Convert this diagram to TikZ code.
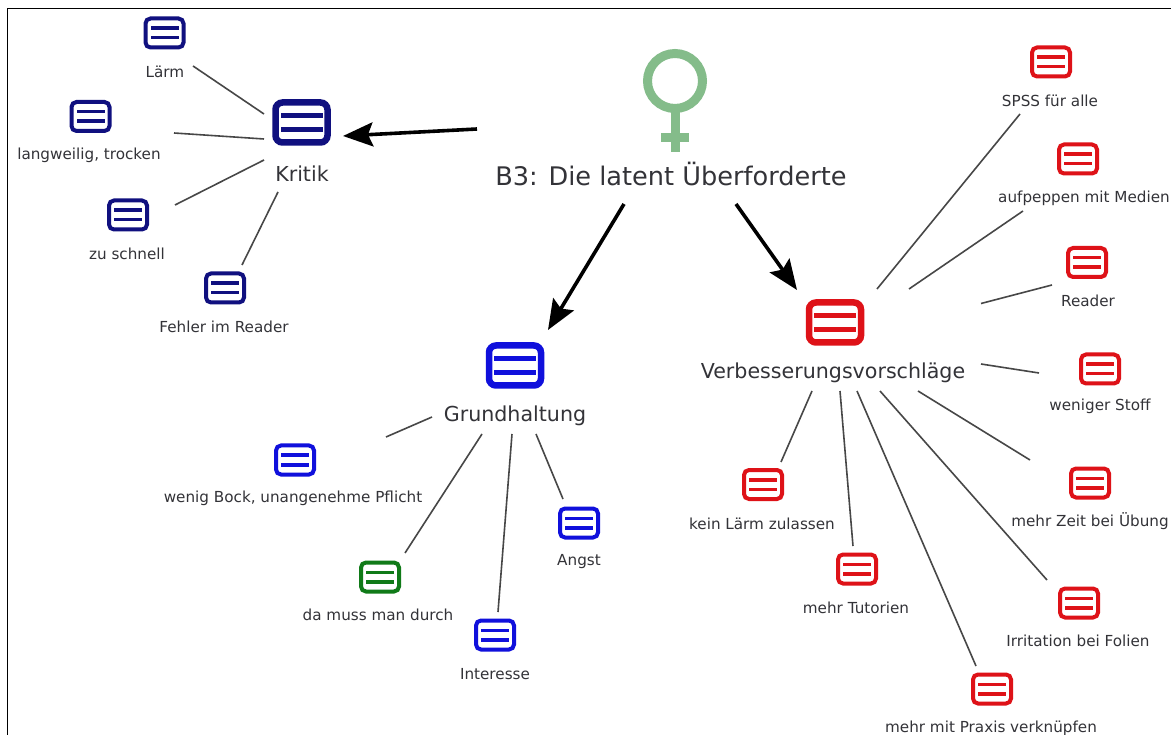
\documentclass[tikz,border=0pt]{standalone}
\usepackage{fontspec}
\setmainfont{DejaVu Sans}
\usetikzlibrary{arrows.meta}
\definecolor{cnavy}{HTML}{10107F}
\definecolor{cblue}{HTML}{1010DC}
\definecolor{cred}{HTML}{DE1218}
\definecolor{cgreen}{HTML}{107A18}
\definecolor{cfem}{HTML}{84BC8A}
\definecolor{ctext}{HTML}{333338}
\tikzset{
  bigicon/.style={draw=#1,line width=6.5pt,rounded corners=7pt,minimum width=52pt,minimum height=40pt,inner sep=0pt,outer sep=0pt,fill=white,
    path picture={\fill[#1,sharp corners] ([shift={(-21,-9.5)}]path picture bounding box.center) rectangle ([shift={(21,-4.5)}]path picture bounding box.center);
                  \fill[#1,sharp corners] ([shift={(-21,4.5)}]path picture bounding box.center) rectangle ([shift={(21,9.5)}]path picture bounding box.center);}},
  smallicon/.style={draw=#1,line width=4pt,rounded corners=5pt,minimum width=38pt,minimum height=29pt,inner sep=0pt,outer sep=0pt,fill=white,
    path picture={\fill[#1,sharp corners] ([shift={(-14,-6.5)}]path picture bounding box.center) rectangle ([shift={(14,-3)}]path picture bounding box.center);
                  \fill[#1,sharp corners] ([shift={(-14,3)}]path picture bounding box.center) rectangle ([shift={(14,6.5)}]path picture bounding box.center);}},
  smalllabel/.style={text=ctext,font=\fontsize{15.2}{18}\selectfont,inner sep=0pt,yshift=-1pt},
  biglabel/.style={text=ctext,font=\fontsize{20.6}{24}\selectfont,inner sep=0pt,yshift=-1.5pt},
  titlelabel/.style={text=ctext,font=\fontsize{25.6}{30}\selectfont,inner sep=0pt,yshift=1.5pt},
  linkline/.style={draw=black!72,line width=1.6pt},
  bigarrow/.style={draw=black,line width=3.6pt,-{Stealth[length=30pt,width=24pt,inset=5pt]}},
  femline/.style={draw=cfem,line width=9pt},
}
\newcommand\linkit[6]{\draw[linkline] ([shift={(#2,#3)}]#1.center) -- ([shift={(#5,#6)}]#4.center);}
\newcommand\arrowit[6]{\draw[bigarrow] ([shift={(#2,#3)}]#1.center) -- ([shift={(#5,#6)}]#4.center);}
\newcommand\leaf[6]{\node[smallicon=#4] (#1) at (#2,#3) {}; \node[smalllabel] (#1L) at (#5) {#6};}
\begin{document}
\begin{tikzpicture}[x=1pt,y=-1pt]
\useasboundingbox (0,0) rectangle (1171,735);
\fill[white] (0,0) rectangle (1171,735);
\draw[black,line width=1.3pt] (7.5,735) -- (7.5,8.5) -- (1171,8.5);
% female symbol
\node[draw=cfem,line width=9pt,circle,minimum size=55pt,inner sep=0pt,outer sep=0pt] (fem) at (675,81) {};
\draw[femline] (fem.south) -- ++(0,43.5);
\draw[femline] (fem.south) ++(-14,29.5) -- ++(28,0);
\node[titlelabel] (main) at (671,175) {B3: Die latent Überforderte};
% hubs
\node[bigicon=cnavy] (kritik) at (301.5,122.5) {};
\node[biglabel] (kritikL) at (302,172) {Kritik};
\node[bigicon=cblue] (grund) at (515,365.5) {};
\node[biglabel] (grundL) at (515,414) {Grundhaltung};
\node[bigicon=cred] (verb) at (835,322.5) {};
\node[biglabel] (verbL) at (833,371) {Verbesserungsvorschläge};
% leaves
\leaf{laerm}{164.5}{33}{cnavy}{165,71}{Lärm}
\leaf{lang}{90.5}{116.5}{cnavy}{89,154}{langweilig, trocken}
\leaf{schnell}{128}{215}{cnavy}{127,253}{zu schnell}
\leaf{fehler}{225}{288}{cnavy}{224,326}{Fehler im Reader}
\leaf{spss}{1051}{62}{cred}{1050,100}{SPSS für alle}
\leaf{auf}{1078}{159}{cred}{1084,197}{aufpeppen mit Medien}
\leaf{reader}{1087}{262.5}{cred}{1088,300}{Reader}
\leaf{weniger}{1100}{369}{cred}{1100,405}{weniger Stoff}
\leaf{zeit}{1090}{483}{cred}{1090,520}{mehr Zeit bei Übung}
\leaf{irrit}{1079}{603}{cred}{1078,640}{Irritation bei Folien}
\leaf{praxis}{992}{689}{cred}{991,727}{mehr mit Praxis verknüpfen}
\leaf{tutor}{857}{569}{cred}{856,607}{mehr Tutorien}
\leaf{kein}{763}{484.5}{cred}{762,523}{kein Lärm zulassen}
\leaf{wenig}{295}{460}{cblue}{293,497}{wenig Bock, unangenehme Pflicht}
\leaf{muss}{380}{577}{cgreen}{378,614}{da muss man durch}
\leaf{inter}{495}{635}{cblue}{495,673}{Interesse}
\leaf{angst}{579}{523}{cblue}{579,561}{Angst}
% connectors
\linkit{kritik}{-37.5}{-8.5}{laerm}{28.5}{33}
\linkit{kritik}{-37.5}{16.5}{lang}{83.5}{16.5}
\linkit{kritik}{-37.5}{37.5}{schnell}{47}{-10}
\linkit{kritik}{-23.5}{69.5}{fehler}{17}{-23}
\linkit{verb}{42}{-33.5}{spss}{-31}{52}
\linkit{verb}{74}{-33.5}{auf}{-55}{52}
\linkit{verb}{146}{-19}{reader}{-35}{22.5}
\linkit{verb}{146}{41.5}{weniger}{-61}{4}
\linkit{verb}{83}{68.5}{zeit}{-60}{-23}
\linkit{verb}{45}{68.5}{irrit}{-32}{-23}
\linkit{verb}{22}{68.5}{praxis}{-16}{-23}
\linkit{verb}{5}{68.5}{tutor}{-4}{-23}
\linkit{verb}{-23}{68.5}{kein}{18}{-22.5}
\linkit{grund}{-83}{51.5}{wenig}{91}{-23}
\linkit{grund}{-33}{68.5}{muss}{25}{-24}
\linkit{grund}{-3}{68.5}{inter}{3}{-23}
\linkit{grund}{21}{68.5}{angst}{-16}{-24}
% arrows
\arrowit{main}{-194}{-44.5}{kritik}{41.5}{13.5}
\arrowit{main}{-47}{30.5}{grund}{33}{-35.5}
\arrowit{main}{65}{30.5}{verb}{-38}{-32.5}
\end{tikzpicture}
\end{document}
